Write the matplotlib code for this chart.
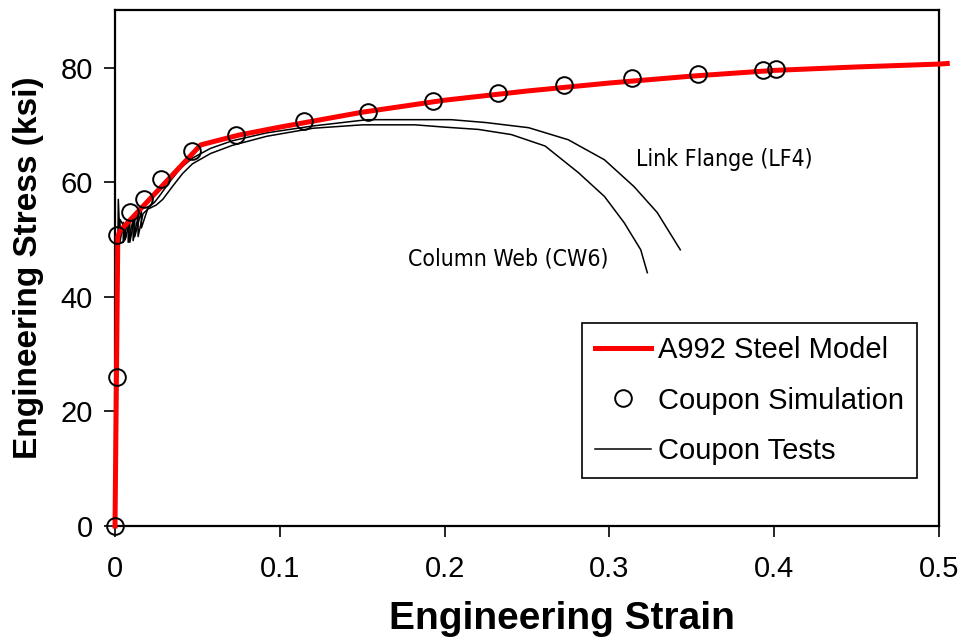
import numpy as np
import matplotlib
matplotlib.use("Agg")
import matplotlib.pyplot as plt

plt.rcParams['font.family'] = ['Liberation Sans', 'DejaVu Sans']

# A992 steel model (red line)
model_strain = [0, 0.0017, 0.003, 0.052, 0.075, 0.10, 0.15, 0.20, 0.25, 0.30, 0.35, 0.40, 0.45, 0.50, 0.505]
model_stress = [0, 50.5, 51.5, 66.5, 68.2, 69.6, 72.2, 74.3, 75.9, 77.3, 78.5, 79.5, 80.1, 80.6, 80.7]

# coupon simulation (circles)
sim_strain = [0, 0.001, 0.001, 0.009, 0.0177, 0.028, 0.0465, 0.0737, 0.1148, 0.1535,
              0.1927, 0.2326, 0.2725, 0.3136, 0.3535, 0.3934, 0.4012]
sim_stress = [0, 26.0, 50.8, 54.8, 57.1, 60.6, 65.4, 68.3, 70.7, 72.3,
              74.1, 75.6, 76.9, 78.1, 78.8, 79.5, 79.7]

# coupon test: column web CW6
cw6_strain = [0, 0.0008, 0.0015, 0.003, 0.003, 0.005, 0.005, 0.008, 0.008, 0.011, 0.011,
              0.014, 0.014, 0.017, 0.020, 0.025, 0.029, 0.035, 0.041, 0.047, 0.058, 0.071,
              0.092, 0.12, 0.15, 0.182, 0.20, 0.2205, 0.2405, 0.261, 0.281, 0.297, 0.309,
              0.319, 0.323]
cw6_stress = [0, 19.0, 50.0, 52.0, 49.5, 53.0, 49.5, 53.5, 49.5, 53.5, 49.8,
              54.0, 50.5, 54.5, 55.3, 56.0, 57.0, 59.3, 61.5, 63.2, 65.0, 66.4,
              68.0, 69.4, 70.0, 70.0, 69.6, 69.2, 68.3, 66.3, 61.7, 57.5, 52.9,
              48.2, 44.2]

# coupon test: link flange LF4
lf4_strain = [0, 0.0008, 0.002, 0.003, 0.003, 0.006, 0.006, 0.009, 0.009, 0.012, 0.012,
              0.016, 0.016, 0.020, 0.024, 0.027, 0.033, 0.040, 0.047, 0.058, 0.071,
              0.092, 0.12, 0.153, 0.204, 0.225, 0.251, 0.275, 0.297, 0.315, 0.329, 0.343]
lf4_stress = [0, 19.0, 57.0, 50.0, 53.5, 52.0, 50.0, 53.0, 49.5, 54.0, 50.5,
              55.0, 52.0, 55.5, 56.5, 57.6, 60.0, 62.5, 64.2, 65.9, 67.2,
              68.6, 69.8, 70.9, 70.9, 70.4, 69.5, 67.4, 63.9, 59.2, 54.7, 48.2]

fig = plt.figure(figsize=(9.64, 6.38), dpi=100)
ax = fig.add_axes([0.1193, 0.1755, 0.8548, 0.8085])

ax.plot(cw6_strain, cw6_stress, color='black', lw=1.1)
ax.plot(lf4_strain, lf4_stress, color='black', lw=1.1, label='Coupon Tests')
ax.plot(model_strain, model_stress, color='red', lw=3.6, clip_on=False,
        label='A992 Steel Model', zorder=3)
ax.plot(sim_strain, sim_stress, 'o', ms=12, mfc='none', mec='black', mew=1.4,
        clip_on=False, label='Coupon Simulation', zorder=4)

ax.text(0.316, 63.9, 'Link Flange (LF4)', fontsize=16.5, va='center',
        family='DejaVu Sans', fontstretch='condensed')
ax.text(0.178, 46.6, 'Column Web (CW6)', fontsize=16.5, va='center',
        family='DejaVu Sans', fontstretch='condensed')

ax.set_xlim(0, 0.5)
ax.set_ylim(0, 90)
ax.set_xticks([0, 0.1, 0.2, 0.3, 0.4, 0.5])
ax.set_xticklabels(['0', '0.1', '0.2', '0.3', '0.4', '0.5'])
ax.set_yticks([0, 20, 40, 60, 80])
ax.tick_params(labelsize=21, direction='out', length=8, width=1.2)
ax.tick_params(axis='x', pad=13)
ax.tick_params(axis='y', pad=8)
for s in ax.spines.values():
    s.set_linewidth(1.6)

ax.set_xlabel('Engineering Strain', fontsize=28, fontweight='bold', labelpad=10)
ax.xaxis.set_label_coords(0.5425, -0.145)
ax.set_ylabel('Engineering Stress (ksi)', fontsize=24, fontweight='bold', labelpad=12)

h, l = ax.get_legend_handles_labels()
order = [l.index('A992 Steel Model'), l.index('Coupon Simulation'), l.index('Coupon Tests')]
leg = ax.legend([h[i] for i in order], [l[i] for i in order], loc='upper left',
                bbox_to_anchor=(0.567, 0.393), borderaxespad=0, fontsize=21,
                fancybox=False, edgecolor='black', framealpha=1, handlelength=1.9,
                handletextpad=0.25, borderpad=0.45, labelspacing=0.76)
leg.get_frame().set_linewidth(1.2)

fig.savefig('out.png', dpi=100)
